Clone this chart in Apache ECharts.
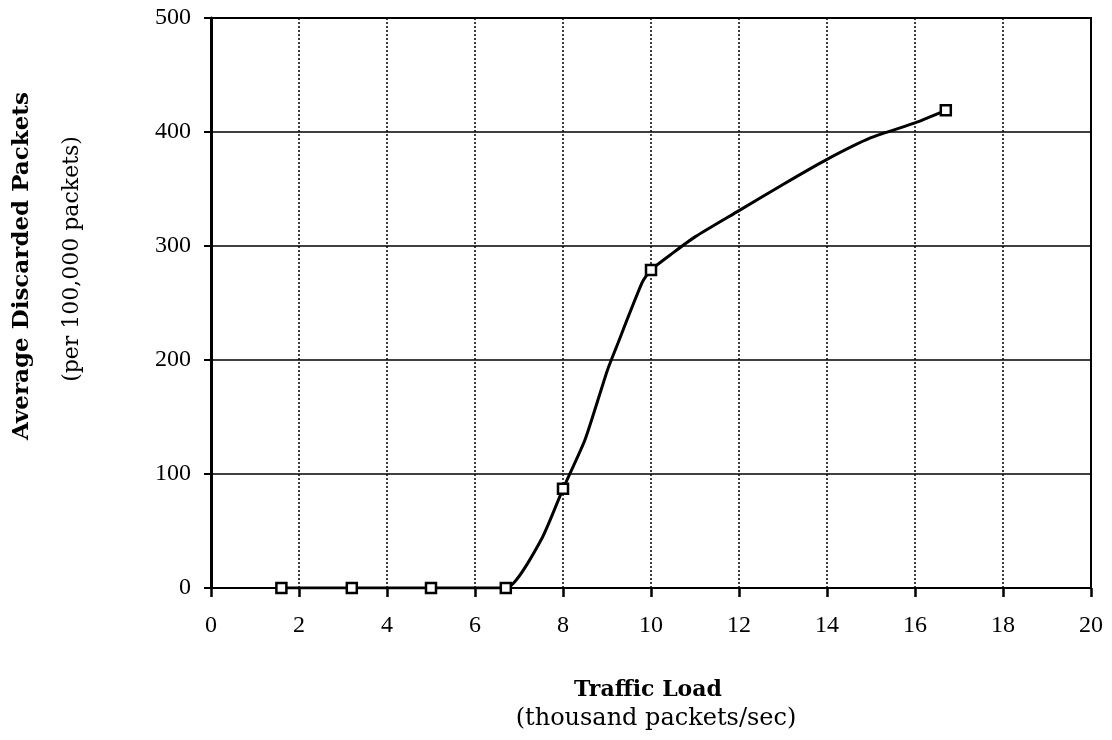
<!DOCTYPE html>
<html><head><meta charset="utf-8">
<script src="https://cdn.jsdelivr.net/npm/echarts@6/dist/echarts.min.js"></script>
<style>html,body{margin:0;padding:0;background:#fff}#c{width:1112px;height:740px}</style>
</head><body><div id="c"></div>
<script>
// Measured data points (markers)
const markerX = [1.6, 3.2, 5.0, 6.7, 8.0, 10.0, 16.7];
const markerY = [0, 0, 0, 0, 87, 279, 419];
// Curve trace
const curveX = [1.6, 3.2, 5.0, 6.7, 7.5, 8.0, 8.5, 9.0, 9.2, 9.8, 10.0, 10.5, 11.0, 12.0, 13.0, 14.0, 15.0, 16.0, 16.7];
const curveY = [0, 0, 0, 0, 42, 87, 130, 190, 210, 268, 279, 294, 308, 331, 354, 376, 395, 408, 419];
const xTicks = [0, 2, 4, 6, 8, 10, 12, 14, 16, 18, 20];
const yTicks = [0, 100, 200, 300, 400, 500];

const font = '"Liberation Serif", "DejaVu Serif", serif';
const tfont = '"DejaVu Serif", serif';
const chart = echarts.init(document.getElementById('c'));
chart.setOption({
  animation: false,
  grid: {left: 211, right: 21, top: 18, bottom: 152, show: true, borderColor: '#000', borderWidth: 2, backgroundColor: 'transparent'},
  xAxis: {
    type: 'value', min: xTicks[0], max: xTicks[xTicks.length-1], interval: 2,
    axisLine: {show: true, onZero: false, lineStyle: {color: '#000', width: 2}},
    axisTick: {show: true, length: 9, lineStyle: {color: '#000', width: 2.5}},
    axisLabel: {color: '#000', fontFamily: font, fontSize: 24, margin: 26},
    splitLine: {show: true, lineStyle: {color: '#000', width: 1.5, type: [2, 2]}}
  },
  yAxis: {
    type: 'value', min: yTicks[0], max: yTicks[yTicks.length-1], interval: 100,
    axisLine: {show: true, lineStyle: {color: '#000', width: 3}},
    axisTick: {show: true, length: 7, lineStyle: {color: '#000', width: 2}},
    axisLabel: {color: '#000', fontFamily: font, fontSize: 24, margin: 20},
    splitLine: {show: true, lineStyle: {color: '#000', width: 1.5}}
  },
  graphic: [
    {type: 'text', style: {text: 'Average Discarded Packets', font: 'bold 23px ' + tfont, fill: '#000', align: 'center', verticalAlign: 'middle'}, x: 22, y: 266, rotation: Math.PI/2},
    {type: 'text', style: {text: '(per 100,000 packets)', font: '22px ' + tfont, fill: '#000', align: 'center', verticalAlign: 'middle'}, x: 72, y: 259, rotation: Math.PI/2},
    {type: 'text', style: {text: 'Traffic Load', font: 'bold 22px ' + tfont, fill: '#000', align: 'center', verticalAlign: 'middle'}, x: 648, y: 690},
    {type: 'text', style: {text: '(thousand packets/sec)', font: '24px ' + tfont, fill: '#000', align: 'center', verticalAlign: 'middle'}, x: 656, y: 719}
  ],
  series: [
    {type: 'line', data: curveX.map((x, i) => [x, curveY[i]]), showSymbol: false, symbol: 'none', smooth: 0.2,
     lineStyle: {color: '#000', width: 3}, z: 3},
    {type: 'scatter', data: markerX.map((x, i) => [x, markerY[i]]), symbol: 'rect', symbolSize: 10,
     itemStyle: {color: '#fff', borderColor: '#000', borderWidth: 2.5, opacity: 1}, z: 4}
  ]
});
</script></body></html>
